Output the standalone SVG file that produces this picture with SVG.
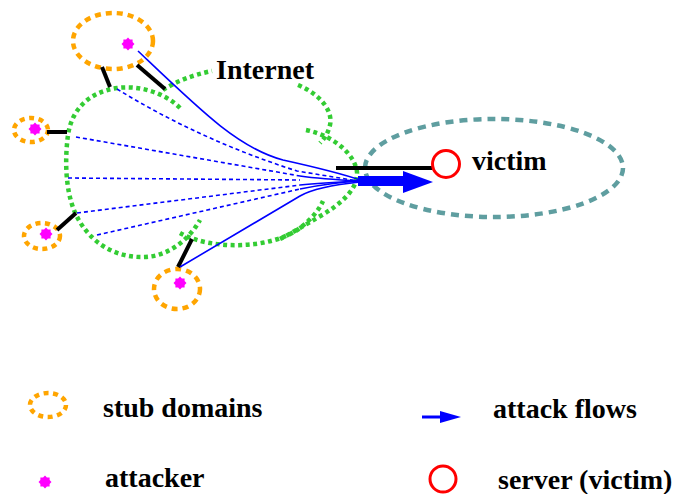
<svg xmlns="http://www.w3.org/2000/svg" width="680" height="494" viewBox="0 0 680 494">
  <style>
    .cloud { fill: none; stroke: #33cc33; stroke-width: 4.5; stroke-dasharray: 4 3.5; }
    .stub { fill: none; stroke: #ffa500; stroke-width: 4.5; stroke-dasharray: 6 5; }
    .stub-sm { fill: none; stroke: #ffa500; stroke-width: 4.5; stroke-dasharray: 5 4.5; }
    .link { stroke: #000; stroke-width: 4; stroke-linecap: butt; fill: none; }
    .flow { fill: none; stroke: #0000ff; stroke-width: 1.6; }
    .flow-d { fill: none; stroke: #0000ff; stroke-width: 1.6; stroke-dasharray: 4 3; }
    .atk { fill: #ff00ff; }
    .lbl { font-family: "Liberation Serif", "Times New Roman", serif; font-weight: bold; font-size: 28px; fill: #000; }
  </style>
  <defs>
    <!-- eight-point blob used for attacker hosts -->
    <path id="atk" d="M6.5,0 L4.62,1.91 L4.6,4.6 L1.91,4.62 L0,6.5 L-1.91,4.62 L-4.6,4.6 L-4.62,1.91 L-6.5,0 L-4.62,-1.91 L-4.6,-4.6 L-1.91,-4.62 L0,-6.5 L1.91,-4.62 L4.6,-4.6 L4.62,-1.91 Z"/>
  </defs>

  <!-- Internet cloud drawn as overlapping dotted arcs -->
  <g id="internet">
    <path class="cloud" d="M180,108 C165,93 140,85 117,88 C90,92 72,108 68,135 C64,165 66,200 80,222 C95,247 120,258 145,257 C170,256 190,238 200,220"/>
    <path class="cloud" d="M163,90 C175,82 192,75 212,71"/>
    <path class="cloud" d="M298,85 C322,95 333,112 330,125 C328,133 325,138 320,143"/>
    <path class="cloud" d="M306,130 C335,136 355,155 357,172 C358,190 340,205 317,218 C305,225 292,233 280,239"/>
    <path class="cloud" d="M180,233 C210,250 270,250 300,228 C310,220 318,212 323,201"/>
    <text class="lbl" x="216" y="79">Internet</text>
  </g>

  <!-- victim's domain -->
  <g id="victim-domain">
    <ellipse cx="494" cy="168" rx="129" ry="49" fill="none" stroke="#5f9ea0" stroke-width="4.5" stroke-dasharray="8 6"/>
  </g>

  <!-- stub domains with their attackers -->
  <g id="stub-top">
    <ellipse class="stub" cx="113" cy="41" rx="40" ry="28"/>
    <use href="#atk" class="atk" x="128" y="44"/>
  </g>
  <g id="stub-left">
    <ellipse class="stub-sm" cx="31" cy="130" rx="17" ry="12"/>
    <use href="#atk" class="atk" x="35" y="129"/>
  </g>
  <g id="stub-lower-left">
    <ellipse class="stub-sm" cx="42" cy="236" rx="18" ry="13"/>
    <use href="#atk" class="atk" x="46" y="234"/>
  </g>
  <g id="stub-bottom">
    <ellipse class="stub" cx="177" cy="289" rx="23" ry="20"/>
    <use href="#atk" class="atk" x="180" y="283"/>
  </g>

  <!-- connectors: access links and attack flows -->
  <g id="connectors">
    <line class="link" x1="102" y1="67" x2="110" y2="87"/>
    <line class="link" x1="137" y1="65" x2="165" y2="89"/>
    <line class="link" x1="47" y1="132" x2="67" y2="132"/>
    <line class="link" x1="57" y1="230" x2="76" y2="213"/>
    <line class="link" x1="178" y1="267" x2="192" y2="239"/>
    <line class="link" x1="336" y1="168" x2="432" y2="168"/>

    <path class="flow" d="M138,51 C200,110 238,148 283,160 C310,166 340,173 360,180"/>
    <path class="flow" d="M180,267 L300,196 C312,189 330,185 360,182"/>

    <path class="flow-d" d="M117,89 Q200,140 297,171 L358,181"/>
    <path class="flow-d" d="M76,137 L300,176"/>
    <path class="flow-d" d="M68,178 L300,180"/>
    <path class="flow-d" d="M77,213 L300,185"/>
    <path class="flow-d" d="M97,235 L300,189"/>

    <path class="flow" d="M300,176 C320,179 340,180 360,181"/>
    <path class="flow" d="M300,185 C320,183 340,182 360,181"/>
    <path class="flow" d="M300,189 C320,185 340,182 360,181"/>

    <line x1="358" y1="181" x2="405" y2="181" stroke="#0000ff" stroke-width="10"/>
    <polygon points="403,171 433,182 403,193" fill="#0000ff"/>
  </g>

  <!-- victim server -->
  <g id="victim">
    <circle cx="446" cy="164" r="13.5" fill="#fff" stroke="#ff0000" stroke-width="3"/>
    <text class="lbl" x="472" y="170">victim</text>
  </g>

  <!-- legend -->
  <g id="legend">
    <ellipse class="stub-sm" cx="48" cy="405" rx="18" ry="12"/>
    <text class="lbl" x="103" y="417">stub domains</text>
    <use href="#atk" class="atk" x="45" y="482"/>
    <text class="lbl" x="105" y="487">attacker</text>
    <line x1="422" y1="417" x2="442" y2="417" stroke="#0000ff" stroke-width="3"/>
    <polygon points="440,411 461,417 440,423" fill="#0000ff"/>
    <text class="lbl" x="493" y="418">attack flows</text>
    <circle cx="443" cy="479" r="13" fill="none" stroke="#ff0000" stroke-width="3"/>
    <text class="lbl" x="498" y="489">server (victim)</text>
  </g>
</svg>
